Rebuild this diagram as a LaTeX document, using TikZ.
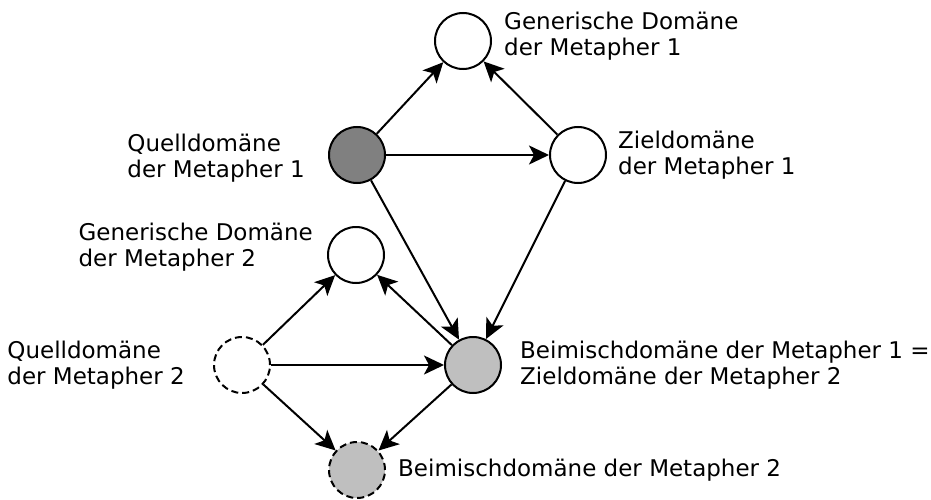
\documentclass[tikz,border=0pt]{standalone}
\usepackage{fontspec}
\setmainfont{DejaVu Sans}
\usetikzlibrary{positioning, arrows.meta}
\definecolor{sourcegray}{gray}{0.5}
\definecolor{blendgray}{gray}{0.75}
\tikzset{space node/.style = {circle, draw, line width=2pt, minimum size=56pt, inner sep=0pt, fill=white}}
\tikzset{source node/.style = {space node, fill=sourcegray}}
\tikzset{blend node/.style = {space node, fill=blendgray}}
\tikzset{open node/.style = {dash pattern=on 7pt off 4pt}}
\tikzset{space label/.style = {inner sep=0pt, align=left, font=\fontsize{23}{26.5}\selectfont}}
\tikzset{mapping/.style = {line width=2pt, -{Stealth[length=20pt, width=19pt, inset=5pt]}}}

\begin{document}
\begin{tikzpicture}[x=1pt, y=-1pt]
      \useasboundingbox (0,0) rectangle (931,500);

      \node[space node] (generic1) at (463,41) {};
      \node[source node] (source1) at (357,155) {};
      \node[space node] (target1) at (578,155) {};
      \node[space node] (generic2) at (356,255) {};
      \node[space node, open node] (source2) at (242,365) {};
      \node[blend node] (blend1) at (473,365) {};
      \node[blend node, open node] (blend2) at (357,470) {};

      \node[space label, right = 12pt of generic1, yshift=5pt]
        {Generische Domäne\\der Metapher 1};
      \node[space label, left = 23pt of source1, yshift=-3pt]
        {Quelldomäne\\der Metapher 1};
      \node[space label, right = 11pt of target1]
        {Zieldomäne\\der Metapher 1};
      \node[space label, left = 14pt of generic2, yshift=8pt]
        {Generische Domäne\\der Metapher 2};
      \node[space label, left = 28pt of source2]
        {Quelldomäne\\der Metapher 2};
      \node[space label, right = 18pt of blend1]
        {Beimischdomäne der Metapher 1 =\\Zieldomäne der Metapher 2};
      \node[space label, right = 12pt of blend2]
        {Beimischdomäne der Metapher 2};

      \path (source1)
        edge[mapping] (generic1)
        edge[mapping] (target1)
        edge[mapping] (blend1);
      \path (target1)
        edge[mapping] (generic1)
        edge[mapping] (blend1);
      \path (source2)
        edge[mapping] (generic2)
        edge[mapping] (blend1)
        edge[mapping] (blend2);
      \path (blend1)
        edge[mapping] (generic2)
        edge[mapping] (blend2);
    \end{tikzpicture}
\end{document}
